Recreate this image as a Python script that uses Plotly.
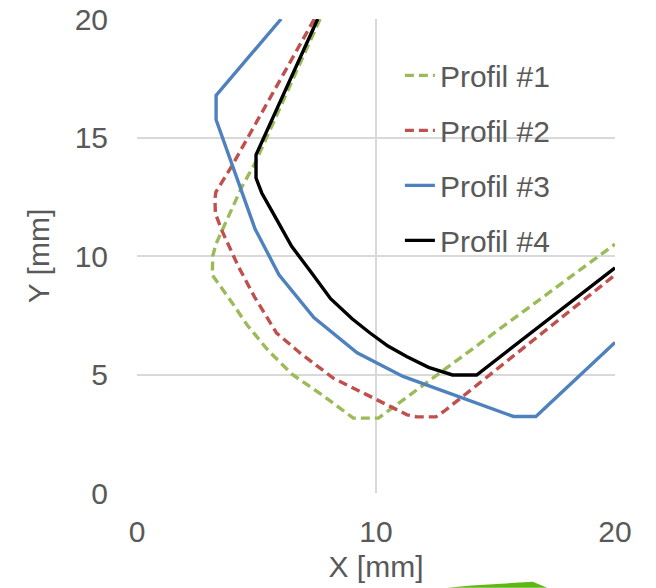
import plotly.graph_objects as go

# ---- data ----
p1_x = [7.66, 4.94, 4.38, 3.80, 3.30, 3.17, 3.15, 4.00, 4.60, 5.50, 6.50, 7.80, 9.05, 10.10, 20.0]
p1_y = [20.0, 13.92, 12.90, 11.60, 10.50, 10.00, 9.20, 8.00, 7.10, 6.00, 5.00, 4.10, 3.16, 3.16, 10.50]

p2_x = [7.42, 3.96, 3.30, 3.26, 3.28, 3.54, 4.24, 4.94, 5.84, 6.82, 8.21, 9.89, 11.30, 11.70, 12.50, 12.85, 20.0]
p2_y = [20.0, 13.78, 12.70, 12.40, 11.80, 11.10, 9.56, 8.23, 6.75, 5.91, 4.85, 4.01, 3.30, 3.21, 3.21, 3.45, 9.20]

p3_x = [6.03, 3.31, 3.31, 4.94, 5.94, 7.40, 9.21, 11.13, 15.75, 16.69, 20.0]
p3_y = [20.0, 16.78, 15.75, 11.14, 9.21, 7.40, 5.92, 4.92, 3.23, 3.23, 6.35]

p4_x = [7.56, 4.98, 4.98, 5.22, 5.77, 6.47, 7.31, 8.10, 9.00, 9.75, 10.50, 11.28, 12.20, 13.20, 14.21, 20.0]
p4_y = [20.0, 14.27, 13.29, 12.66, 11.67, 10.41, 9.28, 8.20, 7.35, 6.75, 6.20, 5.76, 5.30, 4.98, 4.98, 9.50]

series_names = ["Profil #1", "Profil #2", "Profil #3", "Profil #4"]
x_ticks = [0, 10, 20]
y_ticks = [0, 5, 10, 15, 20]

colors = ["#9BBB59", "#C0504D", "#4F81BD", "#000000"]
dashes = ["9px,5px", "9px,5px", "solid", "solid"]
xs = [p1_x, p2_x, p3_x, p4_x]
ys = [p1_y, p2_y, p3_y, p4_y]

FONT = "Liberation Sans, Arial, sans-serif"
TXT = "#595959"
GRID = "#D9D9D9"

fig = go.Figure()
for i, name in enumerate(series_names):
    fig.add_trace(go.Scatter(
        x=xs[i], y=ys[i], mode="lines", name=name,
        legendgroup=name,
        line=dict(color=colors[i], width=3.4, dash=dashes[i]),
    ))

fig.update_layout(
    width=656, height=588,
    margin=dict(l=137, r=41, t=19, b=95),
    paper_bgcolor="white", plot_bgcolor="white",
    font=dict(family=FONT, size=30, color=TXT),
    showlegend=True,
    legend=dict(
        x=0.55, y=0.936, xanchor="left", yanchor="top",
        bgcolor="rgba(0,0,0,0)", borderwidth=0,
        font=dict(family=FONT, size=30, color=TXT),
        tracegroupgap=13,
    ),
    xaxis=dict(
        range=[0, 20], tickvals=x_ticks, ticktext=[str(v) for v in x_ticks],
        showgrid=True, gridcolor=GRID, gridwidth=1.8,
        zeroline=False, showline=False, ticks="",
        automargin=False,
        ticklabelstandoff=18,
        tickfont=dict(family=FONT, size=30, color=TXT),
        title=dict(text="X [mm]", font=dict(family=FONT, size=30, color=TXT), standoff=8),
    ),
    yaxis=dict(
        range=[0, 20], tickvals=y_ticks, ticktext=[str(v) for v in y_ticks],
        showgrid=True, gridcolor=GRID, gridwidth=1.8,
        zeroline=False, showline=False, ticks="",
        automargin=False,
        ticklabelstandoff=28,
        tickfont=dict(family=FONT, size=30, color=TXT),
        title=dict(text="Y [mm]", font=dict(family=FONT, size=30, color=TXT), standoff=16),
    ),
    shapes=[dict(
        type="path", xref="paper", yref="paper",
        path="M 0.6485,-0.1998 L 0.70,-0.195 L 0.80,-0.189 L 0.828,-0.187 L 0.858,-0.1998 Z",
        fillcolor="#5DB814", line=dict(width=0), layer="above",
    )],
)

fig.write_html(
    "out.html",
    config={"displayModeBar": False},
    post_script="document.body.style.margin='0px';document.body.style.overflow='hidden';",
)
